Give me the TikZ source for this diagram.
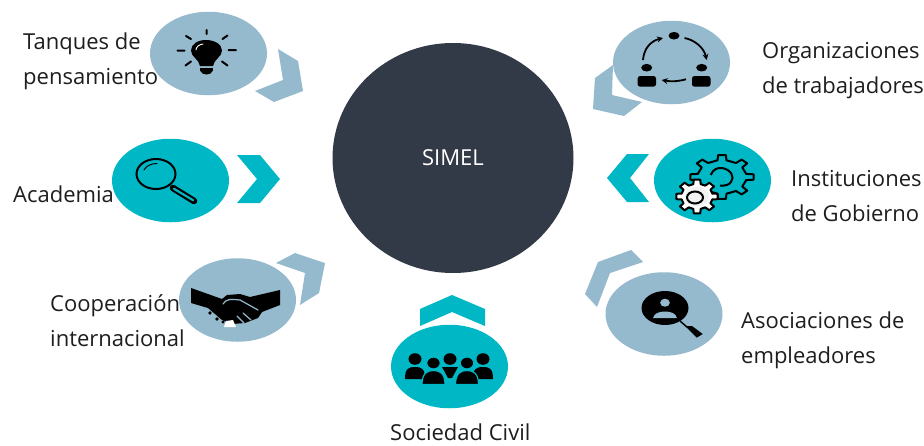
\documentclass[tikz,border=0pt]{standalone}
\usepackage{fontspec}
\setmainfont{Open Sans}
\definecolor{paleblue}{HTML}{95BACE}
\definecolor{tealc}{HTML}{00B7C6}
\definecolor{darkc}{HTML}{333A47}
\definecolor{txt}{HTML}{1E1E1E}
\newcommand{\gearpath}[7]{% cx cy rin rout n halfwidth style
  \begin{scope}[shift={(#1,#2)}]
  \draw[#7] (-#6*1.5:#3)
   \foreach \i in {1,...,#5}{
     -- ({360/#5*(\i-1)-#6}:#4) -- ({360/#5*(\i-1)+#6}:#4) -- ({360/#5*(\i-1)+#6*1.5}:#3) -- ({360/#5*\i-#6*1.5}:#3)
   } -- cycle;
  \end{scope}}
\newcommand{\backperson}[2]{% cx cy of head
  \fill[black] (#1,#2) ellipse (6.5pt and 5.8pt);
  \fill[black] (#1-10,#2+20) .. controls (#1-10,#2+9) and (#1-6,#2+8) .. (#1,#2+8) .. controls (#1+6,#2+8) and (#1+10,#2+9) .. (#1+10,#2+20) -- cycle;}
\newcommand{\frontperson}[2]{%
  \draw[tealc,line width=1.2pt,fill=black] (#1,#2) ellipse (6.8pt and 6pt);
  \draw[tealc,line width=1.2pt,fill=black] (#1-11.5,#2+21.5) .. controls (#1-11.5,#2+10) and (#1-6,#2+7.5) .. (#1,#2+7.5) .. controls (#1+6,#2+7.5) and (#1+11.5,#2+10) .. (#1+11.5,#2+21.5) -- cycle;}
\tikzset{
  x=1pt,y=-1pt,
  pale/.style={ellipse,fill=paleblue,minimum width=117pt,minimum height=83.5pt,inner sep=0pt},
  teal/.style={ellipse,fill=tealc,minimum width=117pt,minimum height=83.5pt,inner sep=0pt},
  label/.style={font=\fontsize{22}{35}\selectfont,text=txt,align=left,inner sep=0pt},
  rays/.style={line width=2pt,black,line cap=round},
  arc/.style={line width=1.8pt,black,-{Stealth[length=6pt,width=6pt]}},
}
\usetikzlibrary{shapes.geometric,arrows.meta}
\begin{document}
\begin{tikzpicture}
\useasboundingbox (0,0) rectangle (924,445);
\fill[white] (0,0) rectangle (924,445);
% labels
\node[label,anchor=west] (ltanques) at (23,61) {Tanques de\\pensamiento};
\node[label,anchor=west] (lacad) at (13,194) {Academia};
\node[label,anchor=west] (lcoop) at (50,321) {Cooperación\\internacional};
\node[label,anchor=west] (lsoc) at (390,432.5) {Sociedad Civil};
\node[label,anchor=west] (lasoc) at (741,340) {Asociaciones de\\empleadores};
\node[label,anchor=west] (linst) at (791,196) {Instituciones\\de Gobierno};
\node[label,anchor=west] (lorg) at (762,71) {Organizaciones\\de trabajadores};
% chevrons
\fill[paleblue] (278,49)--(298,61)--(303,91)--(274,102)--(255,91)--(283,80)--cycle;
\fill[tealc] (237,155)--(260,155)--(280,179)--(260,203)--(237,203)--(257,179)--cycle;
\fill[paleblue] (276,263)--(295,253)--(325,263)--(319,293)--(300,305)--(305,273)--cycle;
\fill[tealc] (420,309)--(452,295)--(485,309)--(485,326)--(452,312)--(420,326)--cycle;
\fill[paleblue] (585,294)--(598,262)--(631,250)--(643,262)--(610,273)--(597,307)--cycle;
\fill[tealc] (607,178)--(627,154)--(649,154)--(630,178)--(649,202)--(627,202)--cycle;
\fill[paleblue] (595,78)--(613,65)--(612,95)--(642,102)--(624,116)--(593,109)--cycle;
% centre
\node[ellipse,fill=darkc,minimum width=241pt,minimum height=230pt,inner sep=0pt,text=white,font=\fontsize{22}{26}\selectfont] (simel) at (453,158) {SIMEL};
% discs
\node[pale] (tanques) at (208.5,53.5) {};
\node[teal] (acad) at (170.5,180.5) {};
\node[pale] (coop) at (237.5,300) {};
\node[teal] (soc) at (449.5,366.5) {};
\node[pale] (asoc) at (664,314) {};
\node[teal] (inst) at (712.5,180.5) {};
\node[pale] (org) at (671.5,62.5) {};
% bulb
\fill[black] (200,66) .. controls (199,59) and (191,57) .. (191,50.5) .. controls (191,44) and (198,40) .. (206,40) .. controls (214,40) and (222,44) .. (222,50.5) .. controls (222,57) and (214,59) .. (213,66) -- cycle;
\fill[black] (200,67.5) rectangle (213,70.5);
\fill[black] (200,70.5) -- (213,70.5) .. controls (212,73.5) and (209,74.5) .. (206.5,74.5) .. controls (204,74.5) and (201,73.5) .. (200,70.5) -- cycle;
\draw[white,line width=0.9pt,line cap=round] (196,50) .. controls (196,47) and (199,44.5) .. (203,44);
\draw[rays] (206.7,30) -- (206.7,34)  (186,36) -- (191,39) (227.5,35.5) -- (222.5,39)
 (177.5,50.5) -- (184.5,50.5) (228.5,50) -- (236,50) (185.5,65.5) -- (191,61.5) (222,61.5) -- (227.5,65.5);
% magnifier
\draw[black,line width=2pt] (156,174) ellipse (19.5pt and 15pt);
\draw[black,line width=1pt,line cap=round] (144,170) .. controls (146,166) and (151,163.5) .. (157,163.5);
\draw[black,line width=6.5pt,line cap=round] (173,188) -- (194,201);
\draw[tealc,line width=2.2pt,line cap=round] (174,188.8) -- (193,200.2);
% handshake
\fill[black] (191,288) -- (222,299) -- (227,295) -- (240,294) -- (250,297) -- (280,290) -- (280,305) -- (262,312) -- (258,318) -- (245,323) -- (232,324) -- (222,320) -- (208,308) -- (191,303) -- cycle;
\draw[paleblue,line width=1.2pt,line cap=round] (223,304) .. controls (226,299) and (230,299) .. (240,300) -- (258,310);
\draw[paleblue,line width=1.2pt,line cap=round] (243,313) -- (251,320) (237,316) -- (244,323);
\fill[black] (210,313) circle (1.8pt) (217,319) circle (1.8pt) (223,322) circle (1.6pt);
\fill[white] (226,321) -- (233,320) -- (236,327) -- (224,327) -- cycle;
% people
\backperson{415}{359}
\backperson{483}{359}
\fill[black] (450,359) ellipse (6.5pt and 5.8pt);
\fill[black] (442,367) -- (458,367) -- (452,378) -- (448,378) -- cycle;
\frontperson{433.5}{363}
\frontperson{467}{363}
% person with loupe
\fill[black] (665,308) ellipse (23.5pt and 17pt);
\fill[paleblue] (665,302.7) ellipse (4.8pt and 4pt);
\fill[paleblue] (653,318) .. controls (654,313) and (660,311.5) .. (665,311.5) .. controls (670,311.5) and (676,313) .. (677,318) -- cycle;
\draw[black,line width=1.5pt] (680,321) -- (687,327);
\fill[black] (685,326) -- (692,326) -- (702.7,334) -- (696.7,337.7) -- cycle;
% gears
\gearpath{722}{177}{20}{26}{8}{7}{xscale=1.23,yscale=.85,line width=2pt,black,fill=tealc,line join=round}
\draw[black,line width=2pt] (710.7,175) .. controls (713,169) and (718,167.5) .. (722,168) .. controls (731,169.5) and (735,177) .. (731,182) .. controls (729,185) and (725,186) .. (720,185.5);
\gearpath{697}{196.5}{15}{20}{8}{9}{xscale=1.05,yscale=.85,line width=2pt,black,fill=white,line join=round}
\fill[white!95!black] (697,196.5) ellipse (12pt and 10pt);
\draw[black,line width=2pt] (695,197.5) ellipse (8pt and 6pt);
% cycle
\fill[black] (674,35.7) ellipse (5.5pt and 3.8pt);
\fill[black] (646.7,67.7) ellipse (5.5pt and 3.8pt);
\fill[black] (701.7,67.7) ellipse (5.5pt and 3.8pt);
\fill[black,rounded corners=2.5pt] (637.7,86.7) -- (637.7,76) -- (656,76) -- (656,86.7) -- cycle;
\fill[black,rounded corners=2.5pt] (692,86.7) -- (692,76) -- (710.5,76) -- (710.5,86.7) -- cycle;
\draw[arc] (643,60) .. controls (644,48) and (651,41) .. (663,38);
\draw[arc] (684.5,38) .. controls (695,40) and (704,48) .. (706.7,60);
\draw[arc] (686,79.3) .. controls (680,81) and (672,82) .. (661.7,80);
\end{tikzpicture}
\end{document}
